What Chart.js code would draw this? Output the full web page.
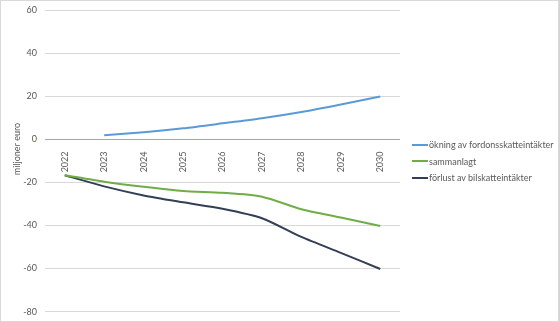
<!DOCTYPE html>
<html lang="sv">
<head>
    <meta charset="UTF-8">
    <title>Fordonsskatt och bilskatt</title>
    <script src="https://cdn.jsdelivr.net/npm/chart.js"></script>
    <style>
        html, body {
            margin: 0;
            padding: 0;
            background: #ffffff;
        }
        .wrap {
            width: 559px;
            height: 322px;
            box-sizing: border-box;
            border: 1px solid #d9d9d9;
            position: relative;
            font-family: Lato, 'Liberation Sans', sans-serif;
        }
        /* diagramytan får lite mer höjd än ramen */
        .plot {
            position: absolute;
            left: 0;
            top: -4px;
            width: 557px;
            height: 328px;
        }
        .legend {
            position: absolute;
            left: 411px;
            top: 136px;
            font-size: 9px;
            color: #595959;
        }
        .legend div {
            height: 16.5px;
            line-height: 16.5px;
            white-space: nowrap;
        }
        .legend span {
            display: inline-block;
            width: 16px;
            height: 2px;
            vertical-align: middle;
            margin-right: 1px;
            position: relative;
            top: -1px;
        }
    </style>
</head>
<body>
    <div class="wrap">
        <div class="plot">
            <canvas id="skatteChart"></canvas>
        </div>
        <div class="legend" id="legend"></div>
    </div>

    <script>
        const years = ['2022', '2023', '2024', '2025', '2026', '2027', '2028', '2029', '2030'];
        const yTicks = [60, 40, 20, 0, -20, -40, -60, -80];

        // miljoner euro per år
        const okningFordonsskatt = [null, 2.0, 3.4, 5.2, 7.5, 9.9, 12.8, 16.3, 20.0];
        const sammanlagt = [-16.6, -19.6, -22.0, -24.0, -24.8, -26.6, -32.4, -36.3, -40.2];
        const forlustBilskatt = [-16.6, -21.8, -26.0, -29.2, -32.2, -36.6, -45.3, -52.7, -60.2];

        const axisTitle = 'miljoner euro';
        const textColor = '#595959';
        const fontFamily = "Lato, 'Liberation Sans', sans-serif";

        // y-axelns titel ritas för hand så att den hamnar rätt
        const yTitlePlugin = {
            id: 'yTitle',
            afterDraw(chart) {
                const ctx = chart.ctx;
                ctx.save();
                ctx.translate(16, 152);
                ctx.rotate(-Math.PI / 2);
                ctx.font = '9px ' + fontFamily;
                ctx.fillStyle = textColor;
                ctx.textAlign = 'center';
                ctx.textBaseline = 'middle';
                ctx.fillText(axisTitle, 0, 0);
                ctx.restore();
            }
        };

        const chart = new Chart(document.getElementById('skatteChart'), {
            type: 'line',
            data: {
                labels: years,
                datasets: [
                    {
                        label: 'ökning av fordonsskatteintäkter',
                        data: okningFordonsskatt,
                        borderColor: '#5b9bd5',
                        backgroundColor: '#5b9bd5'
                    },
                    {
                        label: 'sammanlagt',
                        data: sammanlagt,
                        borderColor: '#70ad47',
                        backgroundColor: '#70ad47'
                    },
                    {
                        label: 'förlust av bilskatteintäkter',
                        data: forlustBilskatt,
                        borderColor: '#323f55',
                        backgroundColor: '#323f55'
                    }
                ]
            },
            options: {
                responsive: true,
                maintainAspectRatio: false,
                animation: false,
                layout: {
                    padding: { top: 0, bottom: 0, left: 0, right: 158 }
                },
                elements: {
                    point: { radius: 0 },
                    line: { borderWidth: 2, tension: 0.25 }
                },
                scales: {
                    x: {
                        position: { y: 0 },
                        offset: true,
                        grid: { display: false },
                        border: { display: false },
                        ticks: {
                            minRotation: 90,
                            maxRotation: 90,
                            padding: 4,
                            color: textColor,
                            font: { family: fontFamily, size: 9 }
                        }
                    },
                    y: {
                        min: -80,
                        max: 60,
                        afterBuildTicks(scale) {
                            scale.ticks = yTicks.map(v => ({ value: v }));
                        },
                        afterFit(scale) {
                            scale.width = 44;
                        },
                        border: { display: false },
                        grid: {
                            color: c => c.tick && c.tick.value === 0 ? '#8cc266' : '#d9d9d9',
                            lineWidth: 1,
                            drawTicks: false
                        },
                        ticks: {
                            padding: 8,
                            color: textColor,
                            font: { family: fontFamily, size: 9 }
                        }
                    }
                },
                plugins: {
                    legend: { display: false },
                    tooltip: { enabled: false }
                }
            },
            plugins: [yTitlePlugin]
        });

        // förklaring byggd från diagrammets dataserier
        const legendEl = document.getElementById('legend');
        chart.data.datasets.forEach(ds => {
            const row = document.createElement('div');
            const swatch = document.createElement('span');
            swatch.style.background = ds.borderColor;
            row.appendChild(swatch);
            row.appendChild(document.createTextNode(ds.label));
            legendEl.appendChild(row);
        });
    </script>
</body>
</html>
